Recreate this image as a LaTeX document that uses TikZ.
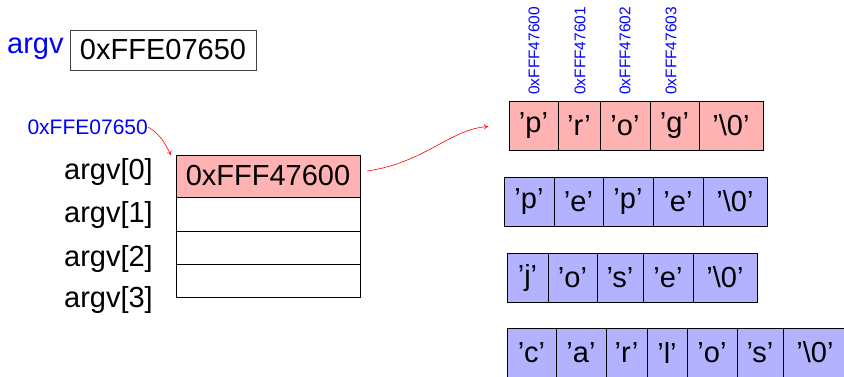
\documentclass[tikz,border=0pt]{standalone}
\usepackage{fontspec}
\setmainfont[Ligatures=TeX]{Liberation Sans}
\usetikzlibrary{arrows.meta}
\newcommand\mybig{\fontsize{29}{34}\selectfont}
\newcommand\mymid{\fontsize{21}{25}\selectfont}
\newcommand\mytiny{\fontsize{15.5}{18}\selectfont}
\definecolor{cellred}{RGB}{255,178,178}
\definecolor{cellblue}{RGB}{178,178,255}
\begin{document}
\begin{tikzpicture}[x=1pt,y=1pt,
  cellr/.style={draw=black, line width=0.9pt, fill=cellred, inner sep=0pt, outer sep=0pt, minimum height=49pt, anchor=north west, font=\mybig},
  cellb/.style={draw=black, line width=0.9pt, fill=cellblue, inner sep=0pt, outer sep=0pt, minimum height=49pt, anchor=north west, font=\mybig},
  slot/.style={draw=black, line width=0.9pt, inner sep=0pt, outer sep=0pt, minimum width=184pt, anchor=north west, font=\mybig},
  idx/.style={anchor=east, inner sep=0pt, font=\mybig},
  addr/.style={text=blue, rotate=90, anchor=west, inner sep=0pt, font=\mytiny},
  ptr/.style={red, line width=0.6pt, -{To[length=4pt,width=5pt]}}]
\useasboundingbox (0,0) rectangle (844,-376);

% argv variable
\node[text=blue, font=\mybig, anchor=base west, inner sep=0pt] (argvname) at (7,-53) {argv};
\node[draw=black!75, line width=0.9pt, minimum width=186pt, minimum height=40pt, inner sep=0pt, font=\mybig] (argvbox) at (163,-50) {0xFFE07650};

% address label
\node[text=blue, font=\mymid, anchor=east, inner sep=0pt] (arraddr) at (148,-127) {0xFFE07650};

% argv array
\node[slot, fill=cellred, minimum height=42pt] (a0) at (176,-155) {0xFFF47600};
\node[slot, minimum height=34pt] (a1) at (a0.south west) {};
\node[slot, minimum height=33pt] (a2) at (a1.south west) {};
\node[slot, minimum height=33pt] (a3) at (a2.south west) {};

\node[idx] (l0) at (153,-172) {argv[0]};
\node[idx] (l1) at (153,-215) {argv[1]};
\node[idx] (l2) at (153,-259) {argv[2]};
\node[idx] (l3) at (153,-300) {argv[3]};

% row 1 (red)
\node[cellr, minimum width=49pt] (r1a) at (509,-101) {'p'};
\node[cellr, minimum width=42pt] (r1b) at (r1a.north east) {'r'};
\node[cellr, minimum width=50pt] (r1c) at (r1b.north east) {'o'};
\node[cellr, minimum width=49pt] (r1d) at (r1c.north east) {'g'};
\node[cellr, minimum width=64pt] (r1e) at (r1d.north east) {'\textbackslash0'};

% address labels
\node[addr] (ad0) at (534,-95) {0xFFF47600};
\node[addr] (ad1) at (580,-95) {0xFFF47601};
\node[addr] (ad2) at (625,-95) {0xFFF47602};
\node[addr] (ad3) at (671,-95) {0xFFF47603};

% row 2
\node[cellb, minimum width=50pt] (r2a) at (504,-177) {'p'};
\node[cellb, minimum width=49pt] (r2b) at (r2a.north east) {'e'};
\node[cellb, minimum width=50pt] (r2c) at (r2b.north east) {'p'};
\node[cellb, minimum width=50pt] (r2d) at (r2c.north east) {'e'};
\node[cellb, minimum width=64pt] (r2e) at (r2d.north east) {'\textbackslash0'};

% row 3
\node[cellb, minimum width=41pt] (r3a) at (507,-253) {'j'};
\node[cellb, minimum width=49pt] (r3b) at (r3a.north east) {'o'};
\node[cellb, minimum width=46pt] (r3c) at (r3b.north east) {'s'};
\node[cellb, minimum width=50pt] (r3d) at (r3c.north east) {'e'};
\node[cellb, minimum width=64pt] (r3e) at (r3d.north east) {'\textbackslash0'};

% row 4
\node[cellb, minimum width=49pt] (r4a) at (507,-328) {'c'};
\node[cellb, minimum width=50pt] (r4b) at (r4a.north east) {'a'};
\node[cellb, minimum width=41pt] (r4c) at (r4b.north east) {'r'};
\node[cellb, minimum width=40pt] (r4d) at (r4c.north east) {'l'};
\node[cellb, minimum width=50pt] (r4e) at (r4d.north east) {'o'};
\node[cellb, minimum width=46pt] (r4f) at (r4e.north east) {'s'};
\node[cellb, minimum width=64pt] (r4g) at (r4f.north east) {'\textbackslash0'};

% pointers
\coordinate (a0tip) at ([xshift=-5pt]a0.north west);
\draw[ptr] (arraddr.east) to[out=-30,in=118] (a0tip);
\coordinate (a0start) at ([shift={(7pt,5pt)}]a0.east);
\draw[ptr, shorten >=21pt] (a0start) to[out=8,in=183] (r1a.west);
\end{tikzpicture}
\end{document}
